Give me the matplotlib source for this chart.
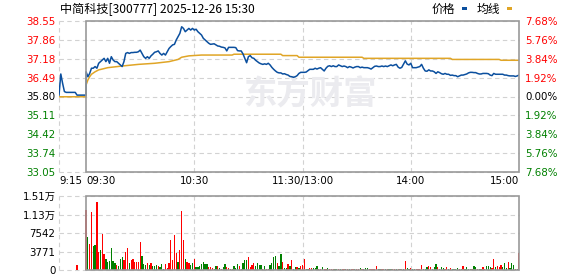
import matplotlib
matplotlib.use("Agg")
import matplotlib.pyplot as plt
from matplotlib.patches import Rectangle, Polygon
import numpy as np

# ---- data ----
title = "中简科技[300777] 2025-12-26 15:30"
prev_close = 35.80

# 9:15 - 9:30 call auction, one value per minute
pre_price = [35.85, 36.62, 36.28, 35.98, 35.95, 35.95, 35.95, 35.95, 35.95, 35.95,
             35.85, 35.85, 35.85, 35.85, 35.85, 35.85]
pre_avg_t = [0, 15]
pre_avg = [35.79, 35.79]
pre_vol_t = 10
pre_vol = 1019

# 9:30 - 11:30 / 13:00 - 15:00, one value per minute (241)
price = [
    36.70, 36.52, 36.64, 36.83, 36.83, 36.89, 36.83, 37.01, 37.07, 37.13,
    37.19, 37.07, 37.19, 37.01, 37.25, 37.13, 37.07, 37.07, 37.01, 36.95,
    36.89, 37.07, 37.37, 37.40, 37.37, 37.40, 37.40, 37.41, 37.41, 37.43,
    37.49, 37.37, 37.25, 37.19, 37.25, 37.19, 37.28, 37.34, 37.41, 37.43,
    37.46, 37.37, 37.31, 37.37, 37.31, 37.43, 37.55, 37.62, 37.68, 37.70,
    37.86, 37.98, 38.10, 38.34, 38.28, 38.16, 38.22, 38.28, 38.22, 38.28,
    38.22, 38.25, 38.16, 38.10, 38.04, 37.92, 37.86, 37.80, 37.74, 37.70,
    37.71, 37.72, 37.68, 37.64, 37.63, 37.60, 37.59, 37.57, 37.46, 37.59,
    37.59, 37.59, 37.59, 37.58, 37.47, 37.46, 37.46, 37.35, 37.19, 37.03,
    37.25, 37.29, 37.21, 37.19, 37.12, 37.07, 37.02, 36.99, 36.97, 36.99,
    36.97, 37.01, 36.95, 36.86, 36.79, 36.73, 36.68, 36.66, 36.66, 36.62,
    36.63, 36.60, 36.58, 36.53, 36.52, 36.50, 36.52, 36.56, 36.64, 36.68,
    36.68, 36.68, 36.69, 36.74, 36.79, 36.79, 36.79, 36.83, 36.80, 36.83,
    36.85, 36.79, 36.73, 36.83, 36.90, 36.92, 36.89, 36.92, 36.89, 36.89,
    36.95, 36.92, 36.89, 36.91, 36.89, 36.85, 36.89, 36.87, 36.84, 36.87,
    36.89, 36.89, 36.85, 36.87, 36.85, 36.85, 36.85, 36.83, 36.80, 36.85,
    36.90, 36.91, 36.89, 36.89, 36.91, 36.89, 36.91, 36.89, 36.92, 36.95,
    36.92, 36.95, 36.97, 36.87, 36.83, 36.86, 36.98, 37.10, 36.98, 36.95,
    37.01, 36.85, 36.85, 36.85, 36.87, 36.89, 36.97, 36.83, 36.73, 36.72,
    36.77, 36.73, 36.73, 36.70, 36.64, 36.70, 36.67, 36.63, 36.61, 36.64,
    36.61, 36.61, 36.57, 36.58, 36.56, 36.56, 36.52, 36.55, 36.58, 36.58,
    36.60, 36.62, 36.66, 36.68, 36.68, 36.67, 36.67, 36.64, 36.62, 36.62,
    36.64, 36.64, 36.64, 36.63, 36.58, 36.56, 36.64, 36.61, 36.61, 36.61,
    36.61, 36.61, 36.58, 36.58, 36.56, 36.55, 36.55, 36.55, 36.53, 36.55,
    36.58,
]

# average price line, read at its turning points (minutes after 9:30)
avg_t = [0, 1, 2, 3, 5, 7, 9, 12, 20, 29, 38, 46, 51, 53, 57, 64, 81, 82,
         108, 109, 117, 118, 153, 154, 202, 203, 229, 230, 240]
avg = [36.22, 36.40, 36.52, 36.61, 36.70, 36.77, 36.80, 36.85, 36.91, 36.97,
       37.01, 37.07, 37.15, 37.23, 37.28, 37.31, 37.31, 37.34, 37.34, 37.29,
       37.29, 37.23, 37.23, 37.19, 37.19, 37.15, 37.15, 37.12, 37.12]

vol = [
    12231, 6659, 5300, 11823, 4892, 5096, 13862, 3669, 4077, 7339,
    3262, 2242, 1631, 1903, 4553, 1903, 1359, 951, 815, 2174,
    2650, 2039, 3669, 4485, 1427, 2039, 2242, 1631, 1631, 1631,
    5708, 2854, 1223, 1087, 1359, 951, 1495, 815, 815, 951,
    815, 680, 1223, 272, 1223, 408, 1359, 6116, 2039, 7135,
    3465, 1631, 4077, 12027, 6116, 2242, 1631, 1495, 1019, 1427,
    2242, 612, 612, 815, 1223, 1631, 1223, 1223, 612, 612,
    408, 136, 815, 815, 408, 136, 680, 1223, 544, 408,
    136, 272, 815, 408, 1223, 815, 272, 1495, 2039, 2039,
    2650, 544, 1087, 1427, 815, 1427, 951, 1019, 272, 815,
    136, 136, 1087, 1495, 2650, 2854, 1427, 815, 3262, 1631,
    408, 408, 1223, 815, 2039, 136, 612, 612, 476, 815,
    1019, 2242, 136, 204, 408, 408, 408, 408, 815, 204,
    204, 544, 204, 204, 340, 136, 136, 136, 136, 136,
    204, 136, 136, 136, 204, 136, 136, 136, 136, 204,
    136, 136, 340, 136, 136, 340, 340, 136, 204, 272,
    272, 815, 136, 136, 136, 204, 136, 136, 136, 204,
    136, 136, 136, 204, 136, 136, 272, 1835, 340, 136,
    408, 204, 204, 136, 136, 136, 1019, 204, 204, 544,
    815, 544, 136, 544, 1223, 680, 272, 544, 476, 136,
    544, 204, 476, 272, 136, 136, 340, 272, 136, 815,
    136, 544, 272, 136, 136, 815, 544, 272, 272, 136,
    544, 204, 815, 815, 544, 408, 2242, 680, 815, 544,
    951, 680, 1359, 408, 1631, 408, 1359, 1019, 204, 136,
    3533,
]
# r = up minute, g = down minute
vol_dir = ("rgrrggrrgr" "rggggggrgg" "grrrgrrrrr" "rgggrgrggg" "rgggrrrrrr"
           "rgrrrgrrgg" "rgggggggrr" "rggrgrggrr" "grgggrgggg" "rrrrggggrg"
           "rrggggrggr" "ggrgrggrgr" "rrggrrgggr" "rgrrgrrrgg" "rgrrgrgrrg"
           "rrgrgggrrr" "rrggrrgrgg" "rrgrgrgrgg" "rggrrrrggg" "rrgggrrggr"
           "rgrggggrgr" "ggggrggrgg" "rrgggrrgrr" "rgggrgggrg" "r")

price_ticks = [33.05, 33.74, 34.42, 35.11, 35.80, 36.49, 37.18, 37.86, 38.55]
pct_labels = ["7.68%", "5.76%", "3.84%", "1.92%", "0.00%", "1.92%", "3.84%", "5.76%", "7.68%"]
vol_ticks = [0, 3771, 7542, 11313, 15084]
vol_labels = ["0", "3771", "7542", "1.13万", "1.51万"]
time_ticks = [0, 15, 75, 135, 195, 255]
time_labels = ["9:15", "09:30", "10:30", "11:30/13:00", "14:00", "15:00"]

# ---- style ----
plt.rcParams['font.family'] = ['DejaVu Sans', 'Noto Sans CJK SC']
RED, GREEN = '#ff0000', '#008000'
BLUE, ORANGE = '#0b4f9e', '#e0a526'
GRID, BOX = '#d2d2d2', '#999999'
FS = 7.4

W, H = 578, 276
fig = plt.figure(figsize=(W / 100, H / 100), dpi=100)
L, R = 59 / W, 519 / W
ax = fig.add_axes([L, 1 - 172 / H, R - L, 151 / H])
axv = fig.add_axes([L, 1 - 270 / H, R - L, 74 / H])


def frame(a, lo, hi, yt):
    a.set_xlim(0, 255)
    a.set_ylim(lo, hi)
    for s in a.spines.values():
        s.set_visible(False)
    for y in yt:
        a.axhline(y, color=GRID, lw=0.8, ls=(0, (4, 3)), zorder=0, clip_on=False)
    for x in (0, 75, 135, 195):
        a.axvline(x, color=GRID, lw=0.8, ls=(0, (4, 3)), zorder=0, clip_on=False)
    a.add_patch(Rectangle((15, lo), 240, hi - lo, fill=False, ec=BOX, lw=1.2,
                          zorder=5, clip_on=False))
    a.tick_params(length=0, labelsize=FS)


# price panel
frame(ax, price_ticks[0], price_ticks[-1], price_ticks)
x_pre = np.arange(len(pre_price))
x_main = 15 + np.arange(len(price))
ax.text(139, 35.87, "东方财富", family=['Noto Sans CJK SC'], fontweight='bold',
        fontsize=24, color='#ebebef', ha='center', va='center', zorder=0)
ax.plot(np.r_[pre_avg_t, 15 + np.array(avg_t)], np.r_[pre_avg, avg],
        color=ORANGE, lw=1.1, zorder=3)
ax.plot(np.r_[x_pre, x_main], np.r_[pre_price, price], color=BLUE, lw=1.1, zorder=4)

ax.set_yticks(price_ticks)
ax.set_yticklabels(["%.2f" % p for p in price_ticks])
ax.tick_params(axis='y', pad=2.5)
ax.set_xticks(time_ticks)
ax.set_xticklabels(time_labels)
ax.tick_params(axis='x', pad=3)
for i, t in enumerate(ax.get_xticklabels()):
    t.set_ha('left' if i < 2 else ('right' if i == len(time_ticks) - 1 else 'center'))
for p, t in zip(price_ticks, ax.get_yticklabels()):
    t.set_color(RED if p > prev_close else (GREEN if p < prev_close else 'black'))

axr = ax.twinx()
axr.set_ylim(price_ticks[0], price_ticks[-1])
for s in axr.spines.values():
    s.set_visible(False)
axr.set_yticks(price_ticks)
axr.set_yticklabels(pct_labels)
axr.tick_params(length=0, labelsize=FS, pad=4.5)
for p, t in zip(price_ticks, axr.get_yticklabels()):
    t.set_color(RED if p > prev_close else (GREEN if p < prev_close else 'black'))

# volume panel
frame(axv, 0, vol_ticks[-1], vol_ticks)
cols = [RED if c == 'r' else GREEN for c in vol_dir]
axv.bar(x_main, vol, width=0.7, color=cols, zorder=3)
axv.bar([pre_vol_t], [pre_vol], width=0.7, color=RED, zorder=3)
axv.set_yticks(vol_ticks)
axv.set_yticklabels(vol_labels)
axv.tick_params(axis='y', pad=2.5)
axv.set_xticks([])


# logo mark of the watermark
def px(x, y):
    return (x / W, 1 - y / H)


leaf = [px(203, 113), px(212, 96), px(224, 84), px(237, 77), px(232, 88),
        px(221, 101), px(211, 114)]
fig.add_artist(Polygon(leaf, closed=True, fc='#ebebef', ec='none', zorder=0,
                       transform=fig.transFigure))

# title and legend
fig.text(60 / W, 1 - 9 / H, title, family=['Noto Sans CJK SC', 'DejaVu Sans'],
         fontsize=8.7, va='center', ha='left')
fig.text(432 / W, 1 - 9 / H, "价格", family=['Noto Sans CJK SC'], fontsize=8.5,
         va='center', ha='left')
fig.text(477 / W, 1 - 9 / H, "均线", family=['Noto Sans CJK SC'], fontsize=8.5,
         va='center', ha='left')
fig.add_artist(Rectangle(px(462, 10), 5 / W, 3 / H, fc=BLUE, ec='none',
                         transform=fig.transFigure))
fig.add_artist(Rectangle(px(507, 10), 5 / W, 3 / H, fc=ORANGE, ec='none',
                         transform=fig.transFigure))

fig.savefig("out.png", dpi=100)
